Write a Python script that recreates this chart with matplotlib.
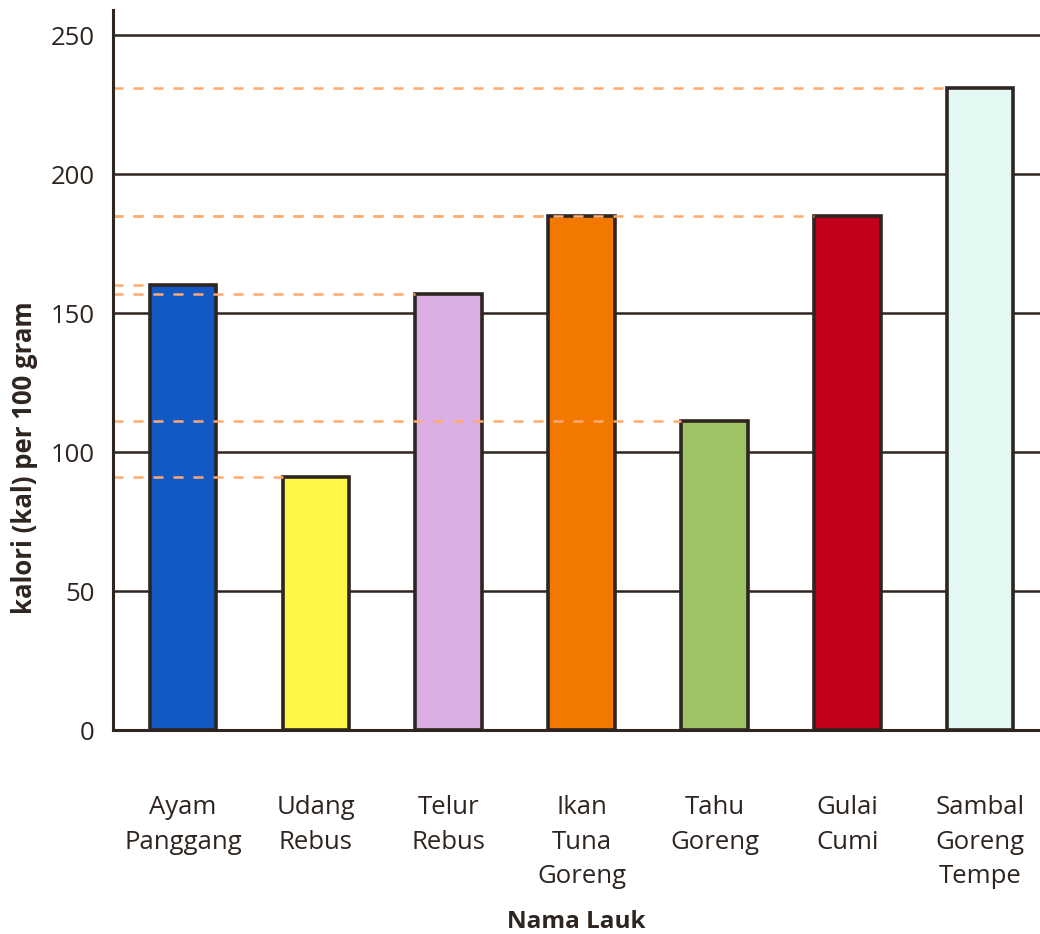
import matplotlib.pyplot as plt
import numpy as np

# --- data ---
lauk = ["Ayam\nPanggang", "Udang\nRebus", "Telur\nRebus", "Ikan\nTuna\nGoreng",
        "Tahu\nGoreng", "Gulai\nCumi", "Sambal\nGoreng\nTempe"]
kalori = [160, 91, 157, 185, 111, 185, 231]
warna = ["#1259c3", "#fff645", "#dbafe3", "#f27800", "#9dc364", "#c2001c", "#e3f8f3"]
y_ticks = [0, 50, 100, 150, 200, 250]

ink = "#2e2420"
plt.rcParams['font.family'] = ['Open Sans', 'DejaVu Sans']

fig = plt.figure(figsize=(10.4, 9.34), dpi=100)
ax = fig.add_axes([0.1087, 0.2184, 0.8913, 0.7709])

x = np.arange(len(lauk))
bar_w = 0.5
y_top = 259

# horizontal grid
for t in y_ticks[1:]:
    ax.axhline(t, color=ink, lw=1.8, zorder=1)

bars = ax.bar(x, kalori, width=bar_w, color=warna, edgecolor=ink, linewidth=2.6, zorder=2)

# dashed guide lines from the axis to each bar
for xi, val in zip(x, kalori):
    ax.plot([-0.526, xi - bar_w / 2], [val, val], color="#ffaa70", lw=1.8,
            dashes=(4, 4), zorder=3, solid_capstyle='butt')

ax.set_xlim(-0.526, 6.45)
ax.set_ylim(0, y_top)
ax.set_yticks(y_ticks)
ax.set_yticklabels([str(t) for t in y_ticks], fontsize=18.5, color=ink)
ax.set_xticks(x)
ax.set_xticklabels(lauk, fontsize=18.5, color=ink, linespacing=1.5, va='top')
ax.tick_params(axis='y', length=0, pad=13)
ax.tick_params(axis='x', length=0, pad=47)

for s in ['top', 'right']:
    ax.spines[s].set_visible(False)
for s in ['left', 'bottom']:
    ax.spines[s].set_color(ink)
    ax.spines[s].set_linewidth(2.2)
    ax.spines[s].set_zorder(4)

ax.set_ylabel("kalori (kal) per 100 gram", fontsize=18.5, fontweight='bold', color=ink)
ax.yaxis.set_label_coords(-0.081, 98 / y_top)
ax.set_xlabel("Nama Lauk", fontsize=17.5, fontweight='bold', color=ink, labelpad=15)

fig.savefig("out.png", dpi=100)
